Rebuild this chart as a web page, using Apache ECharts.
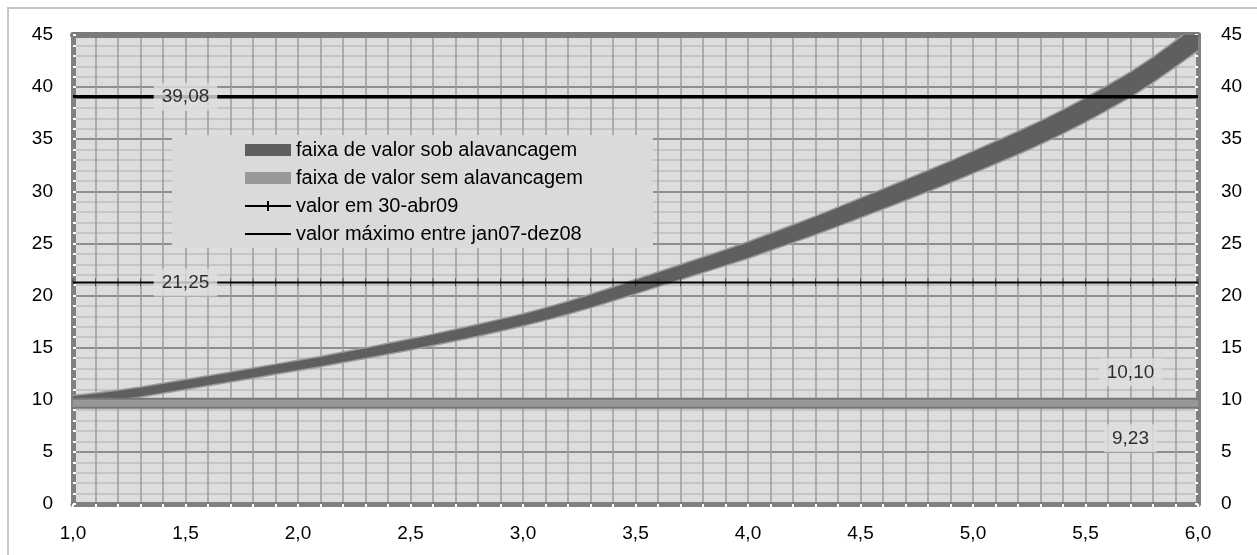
<!DOCTYPE html>
<html>
<head>
<meta charset="utf-8">
<script src="https://cdn.jsdelivr.net/npm/echarts/dist/echarts.min.js"></script>
<style>
  html, body { margin: 0; padding: 0; background: #fff; }
  #chart { width: 1257px; height: 555px; }
</style>
</head>
<body>
<div id="chart"></div>
<script>
// Multiplo de alavancagem (eixo X)
const alavancagem = [
  1.0, 1.1, 1.2, 1.3, 1.4, 1.5, 1.6, 1.7, 1.8, 1.9,
  2.0, 2.1, 2.2, 2.3, 2.4, 2.5, 2.6, 2.7, 2.8, 2.9,
  3.0, 3.1, 3.2, 3.3, 3.4, 3.5, 3.6, 3.7, 3.8, 3.9,
  4.0, 4.1, 4.2, 4.3, 4.4, 4.5, 4.6, 4.7, 4.8, 4.9,
  5.0, 5.1, 5.2, 5.3, 5.4, 5.5, 5.6, 5.7, 5.8, 5.9, 6.0
];

// Faixa de valor sob alavancagem: limite inferior e superior
const faixaSobInferior = [
  9.55, 9.76, 9.99, 10.27, 10.63, 10.99, 11.34, 11.70, 12.07, 12.44,
  12.81, 13.16, 13.58, 13.96, 14.37, 14.78, 15.20, 15.64, 16.10, 16.58,
  17.08, 17.62, 18.20, 18.82, 19.48, 20.16, 20.84, 21.52, 22.20, 22.87,
  23.56, 24.32, 25.08, 25.84, 26.64, 27.46, 28.29, 29.12, 29.97, 30.82,
  31.72, 32.62, 33.54, 34.50, 35.54, 36.64, 37.82, 39.04, 40.42, 41.94, 43.50
];
const faixaSobSuperior = [
  10.40, 10.66, 10.92, 11.22, 11.58, 11.94, 12.30, 12.66, 13.04, 13.42,
  13.80, 14.16, 14.58, 14.98, 15.42, 15.86, 16.30, 16.76, 17.24, 17.74,
  18.26, 18.84, 19.46, 20.12, 20.82, 21.54, 22.26, 22.98, 23.70, 24.42,
  25.16, 25.98, 26.80, 27.62, 28.48, 29.36, 30.24, 31.12, 32.02, 32.92,
  33.86, 34.80, 35.76, 36.76, 37.84, 38.98, 40.20, 41.46, 42.88, 44.46, 46.10
];

// Faixa de valor sem alavancagem
const semInferior = 9.23;
const semSuperior = 10.10;

// Valores de referencia
const valor30abr09 = 21.25;
const valorMaximo = 39.08;

// Posicoes (no eixo X) das etiquetas de valor
const etiquetaXLinhas = 1.5;
const etiquetaXFaixa = 5.7;

const FONT = "'Liberation Sans', Arial, Helvetica, sans-serif";
const fmt1 = v => v.toFixed(1).replace('.', ',');
const fmt2 = v => v.toFixed(2).replace('.', ',');
const GRID_V = '#9c9c9c';
const GRID_MINOR = '#bdbdbd';
const AXIS = '#808080';

const xMin = alavancagem[0];
const xMax = alavancagem[alavancagem.length - 1];

// Dados das faixas: [x, inferior, superior]
const sobDados = alavancagem.map((x, i) => [x, faixaSobInferior[i], faixaSobSuperior[i]]);
const semDados = [[xMin, semInferior, semSuperior], [xMax, semInferior, semSuperior]];

// Desenha uma faixa preenchida entre os limites inferior e superior
function faixa(dados, fill, edge, edgeWidth) {
  return function (params, api) {
    if (params.dataIndex !== 0) return null;
    const topo = dados.map(d => api.coord([d[0], d[2]]));
    const base = dados.map(d => api.coord([d[0], d[1]]));
    const cs = params.coordSys;
    return {
      type: 'group',
      clipPath: { type: 'rect', shape: { x: cs.x, y: cs.y, width: cs.width, height: cs.height } },
      children: [
        { type: 'polygon', shape: { points: topo.concat(base.slice().reverse()) },
          style: { fill: fill, stroke: null } },
        { type: 'polyline', shape: { points: topo },
          style: { fill: null, stroke: edge, lineWidth: edgeWidth } },
        { type: 'polyline', shape: { points: base },
          style: { fill: null, stroke: edge, lineWidth: edgeWidth } }
      ]
    };
  };
}

const yAxisCommon = {
  type: 'value', min: 0, max: 45, interval: 5,
  axisLine: { show: true, onZero: false, lineStyle: { color: AXIS, width: 5 } },
  axisTick: { show: true, inside: true, length: 3, lineStyle: { color: '#ffffff', width: 2 } },
  minorTick: { show: true, splitNumber: 5, length: 3, lineStyle: { color: '#ffffff', width: 2 } },
  axisLabel: { fontSize: 19, color: '#000', fontFamily: FONT, margin: 20 }
};

const chart = echarts.init(document.getElementById('chart'), null, { renderer: 'canvas' });

chart.setOption({
  animation: false,
  backgroundColor: '#ffffff',
  textStyle: { fontFamily: FONT },
  grid: {
    left: 73, right: 59, top: 35, bottom: 51,
    show: true, backgroundColor: '#dddddd', borderWidth: 0,
    containLabel: false, outerBoundsMode: 'none'
  },
  xAxis: [
    {
      type: 'value', min: xMin, max: xMax, interval: 0.5, position: 'bottom',
      axisLine: { show: true, onZero: false, lineStyle: { color: AXIS, width: 5 } },
      axisTick: { show: true, inside: false, length: 3, lineStyle: { color: '#ffffff', width: 2 } },
      minorTick: { show: true, splitNumber: 5, length: 3, lineStyle: { color: '#ffffff', width: 2 } },
      splitLine: { show: true, lineStyle: { color: GRID_V, width: 1.5 } },
      minorSplitLine: { show: true, lineStyle: { color: GRID_V, width: 1.5 } },
      axisLabel: { formatter: fmt1, fontSize: 19, color: '#000', fontFamily: FONT, margin: 20 }
    },
    {
      type: 'value', min: xMin, max: xMax, position: 'top',
      axisLine: { show: true, onZero: false, lineStyle: { color: '#7a7a7a', width: 6 } },
      axisTick: { show: false }, axisLabel: { show: false }, splitLine: { show: false }
    }
  ],
  yAxis: [
    Object.assign({}, yAxisCommon, {
      position: 'left',
      splitLine: { show: true, lineStyle: { color: '#8e8e8e', width: 2 } },
      minorSplitLine: { show: true, lineStyle: { color: GRID_MINOR, width: 1.5 } }
    }),
    Object.assign({}, yAxisCommon, {
      position: 'right',
      axisLabel: { fontSize: 19, color: '#000', fontFamily: FONT, margin: 23 },
      splitLine: { show: false }
    })
  ],
  legend: {
    orient: 'vertical', left: 245, top: 140, padding: 0,
    itemWidth: 46, itemHeight: 12, itemGap: 8,
    selectedMode: false, z: 10,
    textStyle: { fontSize: 20, color: '#000', fontFamily: FONT },
    data: [
      { name: 'faixa de valor sob alavancagem', icon: 'rect',
        itemStyle: { color: '#5f5f5f', borderColor: '#5f5f5f', borderWidth: 0 } },
      { name: 'faixa de valor sem alavancagem', icon: 'rect',
        itemStyle: { color: '#989898', borderColor: '#989898', borderWidth: 0 } },
      { name: 'valor em 30-abr09', icon: 'path://M0,4H22V0H24V4H46V6H24V10H22V6H0Z',
        itemStyle: { color: '#000', borderColor: '#000', borderWidth: 0 } },
      { name: 'valor máximo entre jan07-dez08', icon: 'path://M0,0H46V2H0Z',
        itemStyle: { color: '#000', borderColor: '#000', borderWidth: 0 } }
    ]
  },
  graphic: [
    { type: 'rect', silent: true, z: 0,
      shape: { x: 8, y: 8, width: 1300, height: 600 },
      style: { fill: 'none', stroke: '#c6c6c6', lineWidth: 2 } },
    { type: 'rect', silent: true, z: 8,
      shape: { x: 172, y: 135, width: 481, height: 113 },
      style: { fill: '#dadada' } }
  ],
  series: [
    {
      name: 'faixa de valor sob alavancagem', type: 'custom', z: 2,
      data: sobDados, encode: { x: 0, y: [1, 2] },
      itemStyle: { color: '#5f5f5f' },
      renderItem: faixa(sobDados, '#5f5f5f', '#9a9a9a', 1.5)
    },
    {
      name: 'faixa de valor sem alavancagem', type: 'custom', z: 3,
      data: semDados, encode: { x: 0, y: [1, 2] },
      itemStyle: { color: '#989898' },
      renderItem: faixa(semDados, '#989898', '#777777', 2)
    },
    {
      name: 'valor em 30-abr09', type: 'line', z: 5,
      data: alavancagem.map(x => [x, valor30abr09]),
      symbol: 'path://M0,0H1V4H0Z', symbolSize: [2, 8], symbolKeepAspect: true,
      showSymbol: true, showAllSymbol: true,
      itemStyle: { color: '#000' },
      lineStyle: { color: '#000', width: 2 }
    },
    {
      name: 'valor máximo entre jan07-dez08', type: 'line', z: 5,
      data: [[xMin, valorMaximo], [xMax, valorMaximo]],
      symbol: 'none',
      lineStyle: { color: '#000', width: 3.5 }
    },
    {
      name: 'rotulos', type: 'scatter', z: 9, silent: true,
      symbolSize: 1, itemStyle: { color: 'rgba(0,0,0,0)' },
      label: {
        show: true, formatter: p => fmt2(p.value[1]),
        fontSize: 19, color: '#000', fontFamily: FONT,
        backgroundColor: '#dedede', padding: [5, 8, 4, 8]
      },
      data: [
        { value: [etiquetaXLinhas, valorMaximo], label: { position: 'inside' } },
        { value: [etiquetaXLinhas, valor30abr09], label: { position: 'inside' } },
        { value: [etiquetaXFaixa, semSuperior], label: { position: 'top', distance: 12 } },
        { value: [etiquetaXFaixa, semInferior], label: { position: 'bottom', distance: 16 } }
      ]
    }
  ]
});
</script>
</body>
</html>
